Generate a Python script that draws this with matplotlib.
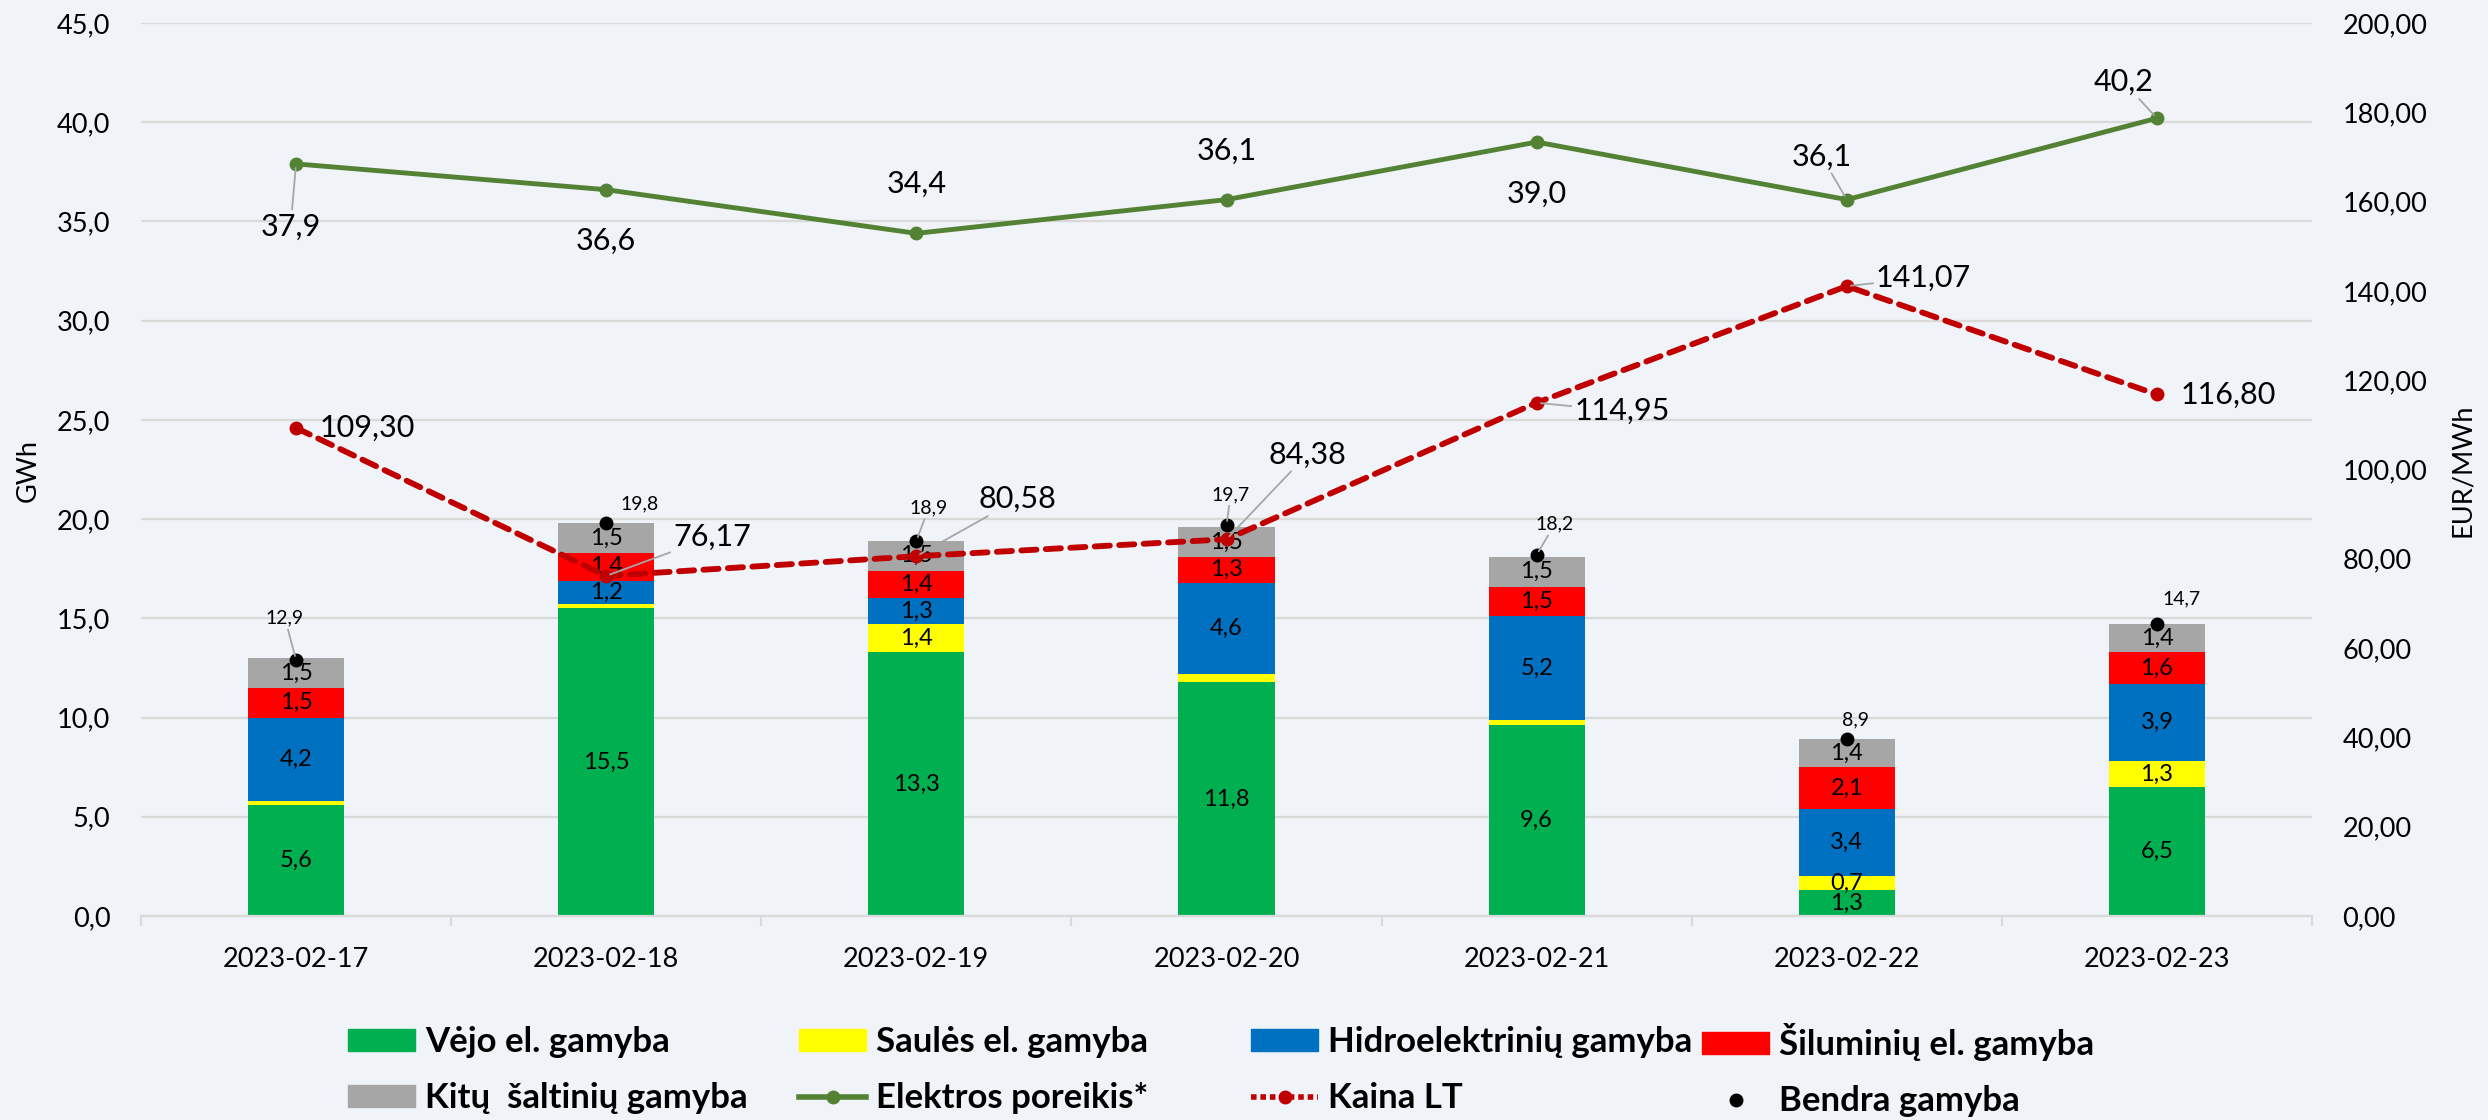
import matplotlib
matplotlib.use('Agg')
import matplotlib.pyplot as plt
import numpy as np
from matplotlib.patches import Patch
from matplotlib.lines import Line2D
from matplotlib.ticker import FuncFormatter, FixedLocator

plt.rcParams['font.family'] = ['Lato', 'DejaVu Sans']

dates = ['2023-02-17', '2023-02-18', '2023-02-19', '2023-02-20',
         '2023-02-21', '2023-02-22', '2023-02-23']
vejo = [5.6, 15.5, 13.3, 11.8, 9.6, 1.3, 6.5]
saules = [0.2, 0.2, 1.4, 0.4, 0.3, 0.7, 1.3]
hidro = [4.2, 1.2, 1.3, 4.6, 5.2, 3.4, 3.9]
silum = [1.5, 1.4, 1.4, 1.3, 1.5, 2.1, 1.6]
kitu = [1.5, 1.5, 1.5, 1.5, 1.5, 1.4, 1.4]
bendra = [12.9, 19.8, 18.9, 19.7, 18.2, 8.9, 14.7]
poreikis = [37.9, 36.6, 34.4, 36.1, 39.0, 36.1, 40.2]
kaina = [109.30, 76.17, 80.58, 84.38, 114.95, 141.07, 116.80]

series = [
    ('Vėjo el. gamyba', vejo, '#00B050'),
    ('Saulės el. gamyba', saules, '#FFFF00'),
    ('Hidroelektrinių gamyba', hidro, '#0070C0'),
    ('Šiluminių el. gamyba', silum, '#FF0000'),
    ('Kitų  šaltinių gamyba', kitu, '#A6A6A6'),
]

BG = '#F0F3F7'
GRID = '#D9D9D9'
LEAD = '#A6A6A6'


def lt(v, d):
    return f'{v:.{d}f}'.replace('.', ',')


def label(a, txt, xy, off, size, leader, ha='center'):
    ap = None
    if leader:
        ap = dict(arrowstyle='-', color=LEAD, lw=1.3, shrinkA=0, shrinkB=3)
    a.annotate(txt, xy, xytext=off, textcoords='offset points', ha=ha, va='center',
               fontsize=size, zorder=7, arrowprops=ap)


fig = plt.figure(figsize=(24.88, 11.2), dpi=100, facecolor=BG)
ax = fig.add_axes([141 / 2488, 1 - 916 / 1120, (2312 - 141) / 2488, (916 - 23) / 1120])
ax.set_facecolor(BG)
ax2 = ax.twinx()

x = np.arange(len(dates))
bottom = np.zeros(len(dates))
for name, vals, col in series:
    vals = np.array(vals)
    ax.bar(x, vals, 0.31, bottom=bottom, color=col, zorder=2)
    for xi, b, v in zip(x, bottom, vals):
        if v >= 0.5:
            ax.text(xi, b + v / 2, lt(v, 1), ha='center', va='center',
                    fontsize=17, color='#000000', zorder=3)
    bottom += vals

# demand line
ax.plot(x, poreikis, color='#548235', lw=3.5, marker='o', ms=9, zorder=4)
dem_off = [(-4, -45), (0, -37), (0, 36), (0, 35), (0, -37), (-18, 31), (-24, 26)]
dem_lead = [True, False, False, False, False, True, True]
for xi, v, off, ld in zip(x, poreikis, dem_off, dem_lead):
    label(ax, lt(v, 1), (xi, v), off, 22, ld)

# total production dots
ax.plot(x, bendra, 'o', color='black', ms=9, zorder=6)
tot_off = [(-8, 30), (24, 14), (9, 24), (3, 22), (13, 22), (6, 14), (18, 18)]
tot_lead = [True, False, True, True, True, False, False]
for xi, v, off, ld in zip(x, bendra, tot_off, tot_lead):
    label(ax, lt(v, 1), (xi, v), off, 14, ld)

# price line
ax2.plot(x, kaina, color='#C00000', lw=4.2, ls=(0, (2.6, 1.6)), marker='o', ms=9,
         dash_capstyle='round', zorder=5)
pr_off = [(17, 0), (48, 28), (45, 41), (30, 61), (27, -6), (21, 6), (17, 0)]
pr_lead = [False, True, True, True, True, True, False]
for xi, v, off, ld in zip(x, kaina, pr_off, pr_lead):
    label(ax2, lt(v, 2), (xi, v), off, 22, ld, ha='left')

ax.set_xlim(-0.5, len(dates) - 0.5)
ax.set_ylim(0, 45)
ax.set_yticks(np.arange(0, 46, 5))
ax.yaxis.set_major_formatter(FuncFormatter(lambda v, p: lt(v, 1)))
ax2.set_ylim(0, 200)
ax2.set_yticks(np.arange(0, 201, 20))
ax2.yaxis.set_major_formatter(FuncFormatter(lambda v, p: lt(v, 2)))

ax.set_xticks(x)
ax.set_xticklabels(dates)
ax.xaxis.set_minor_locator(FixedLocator(np.arange(-0.5, len(dates), 1)))
ax.tick_params(axis='x', which='major', length=0, labelsize=19.5, pad=22)
ax.tick_params(axis='x', which='minor', length=7, width=1.5, color=GRID)
ax.tick_params(axis='y', length=0, labelsize=19.5, pad=22)
ax2.tick_params(axis='y', length=0, labelsize=19.5, pad=22)

ax.grid(axis='y', color=GRID, lw=1.6, zorder=0)
ax.set_axisbelow(True)
for a in (ax, ax2):
    for s in ('top', 'left', 'right', 'bottom'):
        a.spines[s].set_visible(False)
ax.spines['bottom'].set_visible(True)
ax.spines['bottom'].set_color(GRID)
ax.spines['bottom'].set_linewidth(1.6)

fig.text(28 / 2488, 1 - 470 / 1120, 'GWh', rotation=90, ha='center', va='center', fontsize=19.5)
fig.text(2462 / 2488, 1 - 470 / 1120, 'EUR/MWh', rotation=90, ha='center', va='center', fontsize=19.5)

# legend: one small legend per column, placed like the Excel layout
h = [Patch(color=c) for _, _, c in series]
h_dem = Line2D([], [], color='#548235', lw=4, marker='o', ms=9)
h_pr = Line2D([], [], color='#C00000', lw=4, ls=(0, (1.0, 0.7)), marker='o', ms=9)
h_tot = Line2D([], [], color='black', ls='none', marker='o', ms=9)
columns = [
    ([h[0], h[4]], ['Vėjo el. gamyba', 'Kitų  šaltinių gamyba']),
    ([h[1], h_dem], ['Saulės el. gamyba', 'Elektros poreikis*']),
    ([h[2], h_pr], ['Hidroelektrinių gamyba', 'Kaina LT']),
    ([h[3], h_tot], ['Šiluminių el. gamyba', 'Bendra gamyba']),
]
col_x = [348, 799, 1251, 1702]
for (hh, ll), cx in zip(columns, col_x):
    fig.legend(hh, ll, loc='center left', bbox_to_anchor=(cx / 2488, 1 - 1070 / 1120),
               frameon=False, prop={'size': 25, 'weight': 'bold'}, handlelength=1.93,
               handleheight=0.6, handletextpad=0.29, labelspacing=0.7,
               borderpad=0, borderaxespad=0)

fig.savefig('out.png', dpi=100, facecolor=BG)
